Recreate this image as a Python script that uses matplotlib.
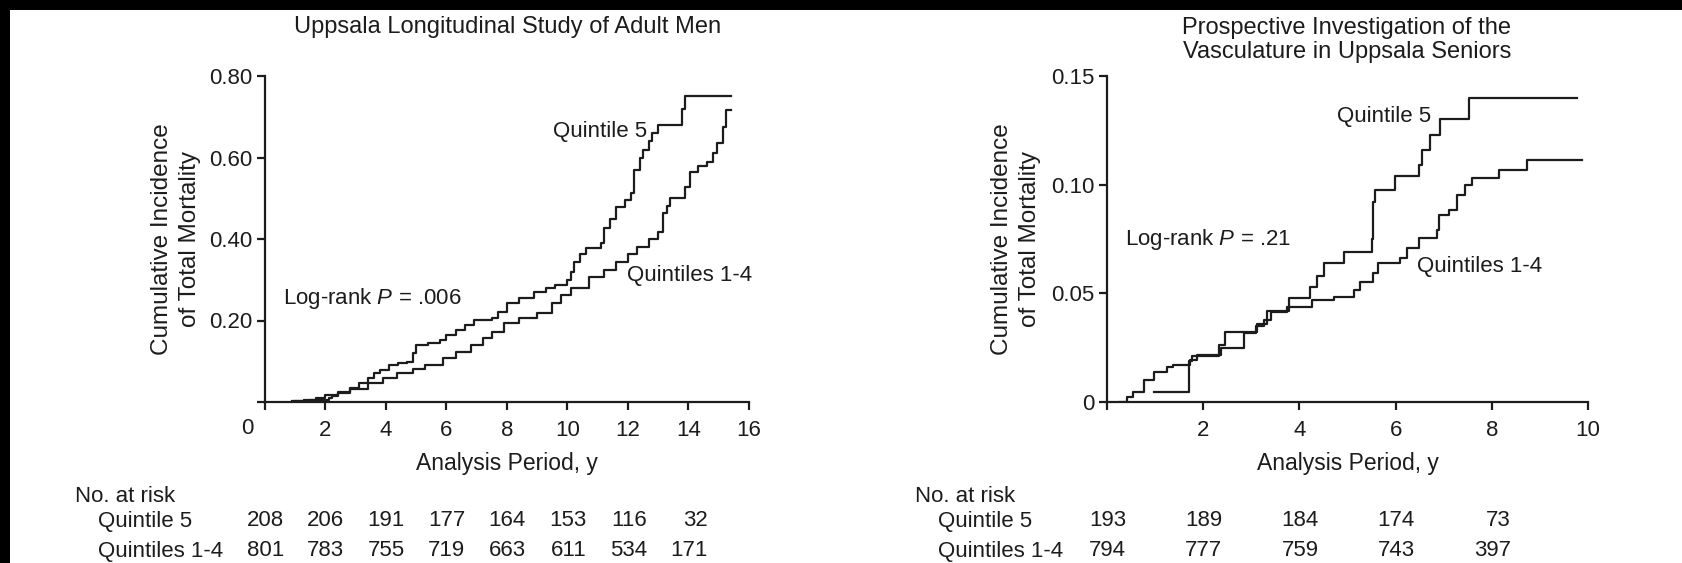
import matplotlib
matplotlib.use("Agg")
import matplotlib.pyplot as plt
from matplotlib.transforms import blended_transform_factory, ScaledTranslation
from matplotlib.patches import Rectangle

plt.rcParams['font.family'] = ['Liberation Sans', 'DejaVu Sans']
plt.rcParams['mathtext.fontset'] = 'custom'
plt.rcParams['mathtext.it'] = 'Liberation Sans:italic'
plt.rcParams['mathtext.rm'] = 'Liberation Sans'

ink = '#1c1c1c'
fs = 16

# ULSAM - cumulative incidence (step points)
ulsam_q5_t = [0.9, 1.3, 1.7, 2.0, 2.4, 2.8, 3.1, 3.4, 3.6, 3.8, 4.1, 4.4, 4.7, 4.9, 5.0,
              5.4, 5.8, 6.0, 6.3, 6.6, 6.9, 7.5, 7.7, 8.0, 8.4, 8.9, 9.3, 9.6, 10.0, 10.1,
              10.2, 10.4, 10.6, 11.1, 11.2, 11.4, 11.6, 11.9, 12.1, 12.2, 12.4, 12.5, 12.7,
              12.8, 13.0, 13.8, 13.9, 15.4]
ulsam_q5_v = [0.003, 0.006, 0.010, 0.018, 0.025, 0.035, 0.047, 0.060, 0.070, 0.078, 0.091,
              0.096, 0.099, 0.120, 0.140, 0.146, 0.152, 0.165, 0.177, 0.190, 0.201, 0.205,
              0.222, 0.242, 0.255, 0.271, 0.280, 0.287, 0.300, 0.320, 0.344, 0.362, 0.377,
              0.389, 0.426, 0.450, 0.479, 0.495, 0.512, 0.569, 0.600, 0.618, 0.640, 0.659,
              0.680, 0.720, 0.751, 0.751]
ulsam_q14_t = [1.0, 1.5, 2.1, 2.2, 2.4, 2.8, 3.4, 3.9, 4.35, 4.9, 5.3, 5.9, 6.3, 6.8, 7.2,
               7.5, 7.9, 8.4, 9.0, 9.5, 9.8, 10.1, 10.7, 11.2, 11.6, 12.0, 12.3, 12.7, 13.0,
               13.17, 13.3, 13.4, 13.9, 14.05, 14.3, 14.6, 14.8, 14.95, 15.15, 15.25, 15.4]
ulsam_q14_v = [0.002, 0.005, 0.010, 0.015, 0.022, 0.033, 0.047, 0.058, 0.070, 0.080, 0.091,
               0.107, 0.122, 0.140, 0.158, 0.172, 0.193, 0.205, 0.218, 0.242, 0.262, 0.279,
               0.307, 0.325, 0.344, 0.362, 0.381, 0.400, 0.418, 0.463, 0.482, 0.500, 0.528,
               0.565, 0.578, 0.590, 0.612, 0.635, 0.676, 0.717, 0.717]

# PIVUS
pivus_q5_t = [0.97, 1.70, 1.77, 2.32, 2.46, 3.12, 3.33, 3.78, 4.22, 4.37, 4.51, 4.92, 5.51,
              5.54, 5.58, 5.99, 6.48, 6.55, 6.72, 6.93, 7.52, 9.78]
pivus_q5_v = [0.0047, 0.019, 0.021, 0.026, 0.032, 0.036, 0.042, 0.048, 0.053, 0.058, 0.064,
              0.069, 0.075, 0.092, 0.0976, 0.104, 0.109, 0.116, 0.123, 0.130, 0.1397, 0.1397]
pivus_q14_t = [0.28, 0.41, 0.55, 0.76, 0.97, 1.25, 1.38, 1.73, 1.87, 2.36, 2.84, 3.09, 3.26,
               3.40, 3.74, 4.26, 4.71, 5.13, 5.27, 5.54, 5.64, 6.09, 6.24, 6.48, 6.86, 6.90,
               7.10, 7.27, 7.45, 7.59, 8.14, 8.73, 9.87]
pivus_q14_v = [0.0, 0.0024, 0.0048, 0.0101, 0.0139, 0.0162, 0.0168, 0.0193, 0.0216, 0.0247,
               0.0316, 0.035, 0.0377, 0.0416, 0.0439, 0.047, 0.0485, 0.0515, 0.0554, 0.0592,
               0.0638, 0.0661, 0.0707, 0.0753, 0.0792, 0.0861, 0.0884, 0.0953, 0.0999, 0.103,
               0.1068, 0.1114, 0.1114]

# numbers at risk
ulsam_risk_t = [0, 2, 4, 6, 8, 10, 12, 14]
ulsam_risk_q5 = [208, 206, 191, 177, 164, 153, 116, 32]
ulsam_risk_q14 = [801, 783, 755, 719, 663, 611, 534, 171]
pivus_risk_t = [0, 2, 4, 6, 8]
pivus_risk_q5 = [193, 189, 184, 174, 73]
pivus_risk_q14 = [794, 777, 759, 743, 397]

W, H = 1683, 563
fig = plt.figure(figsize=(W / 100, H / 100), dpi=100, facecolor='black')
fig.add_artist(Rectangle((10 / W, 0), 1, 1 - 10 / H, transform=fig.transFigure,
                         facecolor='white', edgecolor='none', zorder=-10))


def px(x, y):
    return x / W, 1 - y / H


def setup(ax):
    ax.set_facecolor('none')
    for s in ['top', 'right']:
        ax.spines[s].set_visible(False)
    for s in ['left', 'bottom']:
        ax.spines[s].set_linewidth(1.6)
        ax.spines[s].set_color(ink)
    ax.tick_params(direction='out', length=6, width=1.6, color=ink, labelcolor=ink,
                   labelsize=fs)
    ax.tick_params(axis='x', pad=7)
    ax.tick_params(axis='y', pad=3)


def risk_table(ax, t, q5, q14, x_lab):
    tr = blended_transform_factory(ax.transData, fig.transFigure)
    tr = tr + ScaledTranslation(19 / 100, 0, fig.dpi_scale_trans)
    for ti, a, b in zip(t, q5, q14):
        ax.text(ti, 1 - 521 / H, str(a), transform=tr, ha='right', va='center',
                fontsize=fs, color=ink, clip_on=False)
        ax.text(ti, 1 - 551 / H, str(b), transform=tr, ha='right', va='center',
                fontsize=fs, color=ink, clip_on=False)
    fig.text(*px(x_lab, 497), 'No. at risk', ha='left', va='center', fontsize=fs, color=ink)
    fig.text(*px(x_lab + 23, 521), 'Quintile 5', ha='left', va='center', fontsize=fs, color=ink)
    fig.text(*px(x_lab + 23, 551), 'Quintiles 1-4', ha='left', va='center', fontsize=fs, color=ink)


# left panel
ax1 = fig.add_axes([265 / W, 1 - 402 / H, 484 / W, 326 / H])
setup(ax1)
ax1.step(ulsam_q5_t, ulsam_q5_v, where='post', color=ink, lw=1.6)
ax1.step(ulsam_q14_t, ulsam_q14_v, where='post', color=ink, lw=1.6)
ax1.set_xlim(0, 16)
ax1.set_ylim(0, 0.80)
ax1.set_xticks(range(0, 17, 2))
ax1.set_xticklabels([''] + [str(v) for v in range(2, 17, 2)])
ax1.set_yticks([0, 0.2, 0.4, 0.6, 0.8])
ax1.set_yticklabels(['', '0.20', '0.40', '0.60', '0.80'])
ax1.annotate('0', xy=(0, 0), xycoords='data', xytext=(-13, -19), textcoords='offset points',
             ha='center', va='center', fontsize=fs, color=ink, annotation_clip=False)
ax1.set_xlabel('Analysis Period, y', fontsize=fs + 0.5, color=ink, labelpad=8)
ax1.set_ylabel('Cumulative Incidence\nof Total Mortality', fontsize=fs + 1.5, color=ink,
               linespacing=1.35)
ax1.yaxis.set_label_coords(-0.132, 0.5)
ax1.text(9.52, 0.663, 'Quintile 5', ha='left', va='center', fontsize=fs, color=ink)
ax1.text(11.96, 0.31, 'Quintiles 1-4', ha='left', va='center', fontsize=fs, color=ink)
ax1.text(0.6, 0.253, 'Log-rank $P$ = .006', ha='left', va='center', fontsize=fs, color=ink)
fig.text(*px(508, 27), 'Uppsala Longitudinal Study of Adult Men', ha='center', va='center',
         fontsize=fs + 1, color=ink)
risk_table(ax1, ulsam_risk_t, ulsam_risk_q5, ulsam_risk_q14, 75)

# right panel
ax2 = fig.add_axes([1107 / W, 1 - 402 / H, 481 / W, 326 / H])
setup(ax2)
ax2.step(pivus_q5_t, pivus_q5_v, where='post', color=ink, lw=1.6)
ax2.step(pivus_q14_t, pivus_q14_v, where='post', color=ink, lw=1.6)
ax2.set_xlim(0, 10)
ax2.set_ylim(0, 0.15)
ax2.set_xticks(range(0, 11, 2))
ax2.set_xticklabels([''] + [str(v) for v in range(2, 11, 2)])
ax2.set_yticks([0, 0.05, 0.10, 0.15])
ax2.set_yticklabels(['0', '0.05', '0.10', '0.15'])
ax2.set_xlabel('Analysis Period, y', fontsize=fs + 0.5, color=ink, labelpad=8)
ax2.set_ylabel('Cumulative Incidence\nof Total Mortality', fontsize=fs + 1.5, color=ink,
               linespacing=1.35)
ax2.yaxis.set_label_coords(-0.137, 0.5)
ax2.text(4.78, 0.1313, 'Quintile 5', ha='left', va='center', fontsize=fs, color=ink)
ax2.text(6.44, 0.0623, 'Quintiles 1-4', ha='left', va='center', fontsize=fs, color=ink)
ax2.text(0.38, 0.0746, 'Log-rank $P$ = .21', ha='left', va='center', fontsize=fs, color=ink)
fig.text(*px(1347, 40), 'Prospective Investigation of the\nVasculature in Uppsala Seniors',
         ha='center', va='center', fontsize=fs + 1, color=ink, linespacing=1.15)
risk_table(ax2, pivus_risk_t, pivus_risk_q5, pivus_risk_q14, 915)

fig.savefig('out.png', dpi=100, facecolor=fig.get_facecolor())
